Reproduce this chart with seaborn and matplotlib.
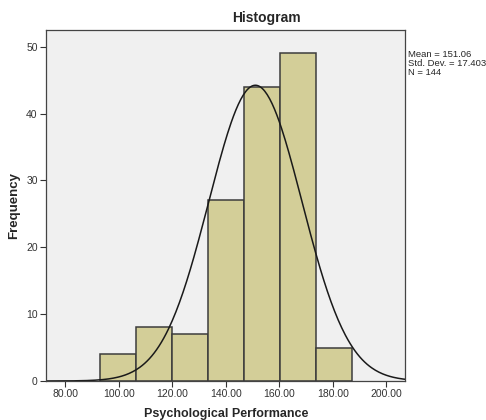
import numpy as np
import pandas as pd
import matplotlib
matplotlib.use("Agg")
import matplotlib.pyplot as plt
import seaborn as sns

# binned values
bin_edges = [93.2, 106.6, 120.0, 133.4, 146.8, 160.2, 173.6, 187.0]
counts = [4, 8, 7, 27, 44, 49, 5]
mean_val = 151.06
std_val = 17.403
n_obs = 144
x_ticks = [80, 100, 120, 140, 160, 180, 200]
y_ticks = [0, 10, 20, 30, 40, 50]

sns.set_style("white")
plt.rcParams['font.family'] = ['Liberation Sans', 'DejaVu Sans']

centers = [(a + b) / 2 for a, b in zip(bin_edges[:-1], bin_edges[1:])]
df = pd.DataFrame({'score': centers, 'count': counts})

fig = plt.figure(figsize=(4.86, 4.2), dpi=100)
ax = fig.add_axes([0.0947, 0.0929, 0.7396, 0.8357])
ax.set_facecolor('#F0F0F0')

sns.histplot(data=df, x='score', weights='count', bins=bin_edges, ax=ax,
             color='#D3CE98', alpha=1, edgecolor='#3C3C3C', linewidth=1.1)

# normal curve scaled to counts
bw = bin_edges[1] - bin_edges[0]
xs = np.linspace(72.9, 207.1, 300)
ys = n_obs * bw / (std_val * np.sqrt(2 * np.pi)) * np.exp(-0.5 * ((xs - mean_val) / std_val) ** 2)
sns.lineplot(x=xs, y=ys, ax=ax, color='#1A1A1A', linewidth=1.1)

ax.set_xlim(72.9, 207.1)
ax.set_ylim(0, 52.5)
ax.set_xticks(x_ticks)
ax.set_xticklabels([f"{t:.2f}" for t in x_ticks], fontsize=7.5, color='#333333')
ax.set_yticks(y_ticks)
ax.set_yticklabels([str(t) for t in y_ticks], fontsize=7.5, color='#333333')
ax.tick_params(axis='both', direction='out', length=4, width=0.8, color='#333333',
               bottom=True, left=True, pad=2)

for s in ax.spines.values():
    s.set_color('#444444')
    s.set_linewidth(0.9)

# SPSS puts the title a bit right of the plot centre
fig.text(0.549, 0.957, 'Histogram', fontsize=10, fontweight='bold', ha='center', va='center')
ax.set_xlabel('Psychological Performance', fontsize=9, fontweight='bold', labelpad=6)
ax.set_ylabel('Frequency', fontsize=9.5, fontweight='bold', labelpad=4)

fig.text(0.84, 0.882, f"Mean = {mean_val}\nStd. Dev. = {std_val}\nN = {n_obs}",
         fontsize=6.8, va='top', ha='left', linespacing=1.0)

fig.savefig('out.png', dpi=100)
